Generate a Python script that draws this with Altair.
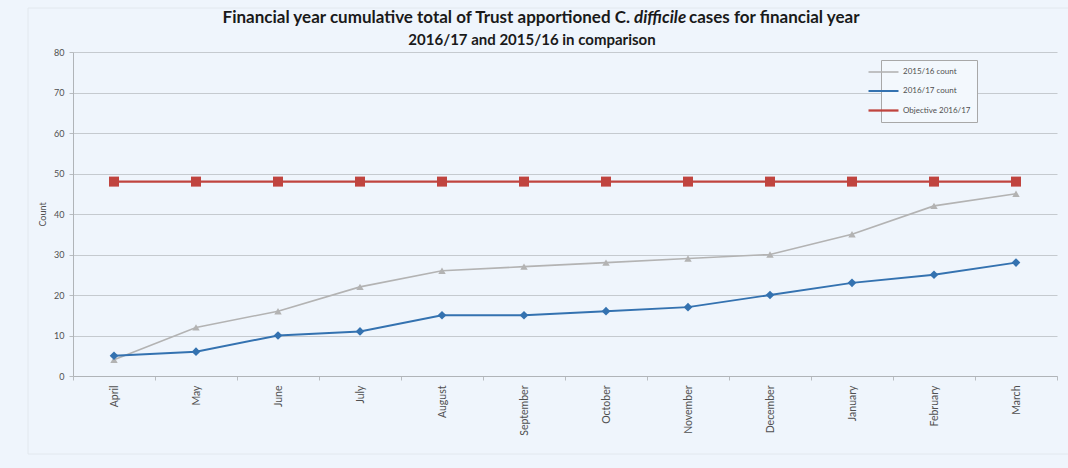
import altair as alt
import pandas as pd

# Monthly cumulative counts, financial year April-March
months = ["April", "May", "June", "July", "August", "September",
          "October", "November", "December", "January", "February", "March"]
count_1516 = [4, 12, 16, 22, 26, 27, 28, 29, 30, 35, 42, 45]
count_1617 = [5, 6, 10, 11, 15, 15, 16, 17, 20, 23, 25, 28]
objective_1617 = [48, 48, 48, 48, 48, 48, 48, 48, 48, 48, 48, 48]

series_names = ["2015/16 count", "2016/17 count", "Objective 2016/17"]
series_colors = ["#B3B3B3", "#3472B0", "#C0443F"]
series_shapes = ["triangle-up", "diamond", "square"]
series_widths = [1.6, 2.3, 2.8]
series_sizes = [55, 75, 100]

title_left = "Financial year cumulative total of Trust apportioned C."
title_italic = "difficile"
title_right = "cases for financial year"
title_line2 = "2016/17 and 2015/16 in comparison"

rows = []
for name, vals in zip(series_names, [count_1516, count_1617, objective_1617]):
    for m, v in zip(months, vals):
        rows.append({"month": m, "series": name, "count": v})
df = pd.DataFrame(rows)

FONT = "Lato"
W, H = 984, 324

x_enc = alt.X(
    "month:N", sort=months, bandPosition=0.5,
    scale=alt.Scale(type="band", paddingInner=0, paddingOuter=0),
    axis=alt.Axis(title=None, labelAngle=-90, labelFontSize=10.5, labelColor="#505050",
                  labelFont=FONT, labelPadding=5, tickBand="extent", tickSize=4,
                  tickColor="#B8BCC0", domainColor="#B0B4B8", grid=False),
)
y_enc = alt.Y(
    "count:Q", scale=alt.Scale(domain=[0, 80], nice=False),
    axis=alt.Axis(values=list(range(0, 81, 10)), title="Count", titleFontSize=9,
                  titleFont=FONT, titleFontWeight="normal", titleColor="#505050",
                  titlePadding=6, labelFontSize=9, labelFont=FONT, labelColor="#505050",
                  labelPadding=5, tickSize=4, tickColor="#B8BCC0",
                  domainColor="#B0B4B8", gridColor="#C5CACF", gridWidth=1),
)
color_scale = alt.Scale(domain=series_names, range=series_colors)

base = alt.Chart(df)

# legend line symbol: a 30px stroke drawn left of a 10px symbol slot
lines = base.mark_line().encode(
    x=x_enc, y=y_enc,
    color=alt.Color("series:N", scale=color_scale, sort=series_names,
                    legend=alt.Legend(title=None, orient="none", legendX=808, legendY=8,
                                      symbolType="M-5,0H1", symbolSize=100,
                                      symbolStrokeWidth=2, labelFontSize=8,
                                      labelFont=FONT, labelColor="#505050",
                                      rowPadding=9, padding=6, strokeColor="#A8A8A8",
                                      fillColor="#F3F8FD", labelOffset=3,
                                      offset=0)),
    strokeWidth=alt.StrokeWidth("series:N", legend=None,
                                scale=alt.Scale(domain=series_names, range=series_widths)),
)

# one marker layer per series so the legend keeps plain line symbols
marker_layers = []
for name, col, shp, sz in zip(series_names, series_colors, series_shapes, series_sizes):
    marker_layers.append(
        base.transform_filter(alt.datum.series == name)
        .mark_point(filled=True, opacity=1, shape=shp, size=sz, color=col)
        .encode(x=x_enc, y=y_enc)
    )

one = alt.Data(values=[{}])

frame = alt.Chart(one).mark_rect(fill="transparent", stroke="#E2E8EE", strokeWidth=1).encode(
    x=alt.value(-45), x2=alt.value(1010), y=alt.value(-44), y2=alt.value(402)
)

title_style = dict(font=FONT, fontWeight="bold", color="#1A1A1A", baseline="middle")
t_left = alt.Chart(one).mark_text(align="right", text=title_left, fontSize=17,
                                  **title_style).encode(x=alt.value(557), y=alt.value(-34))
t_italic = alt.Chart(one).mark_text(align="left", text=title_italic, fontStyle="italic",
                                    fontSize=17, **title_style).encode(
    x=alt.value(561), y=alt.value(-34))
t_right = alt.Chart(one).mark_text(align="left", text=title_right, fontSize=17,
                                   **title_style).encode(x=alt.value(616), y=alt.value(-34))
t_line2 = alt.Chart(one).mark_text(align="center", text=title_line2, fontSize=15,
                                   **title_style).encode(x=alt.value(459), y=alt.value(-12))

chart = alt.layer(frame, lines, *marker_layers, t_left, t_italic, t_right, t_line2).properties(
    width=W, height=H,
    autosize=alt.AutoSizeParams(type="none"),
    padding={"left": 73, "top": 52, "right": 11, "bottom": 92},
    background="#EFF5FC",
).configure_view(stroke=None)

chart.save("out.html", embed_options={"renderer": "svg", "actions": False})
